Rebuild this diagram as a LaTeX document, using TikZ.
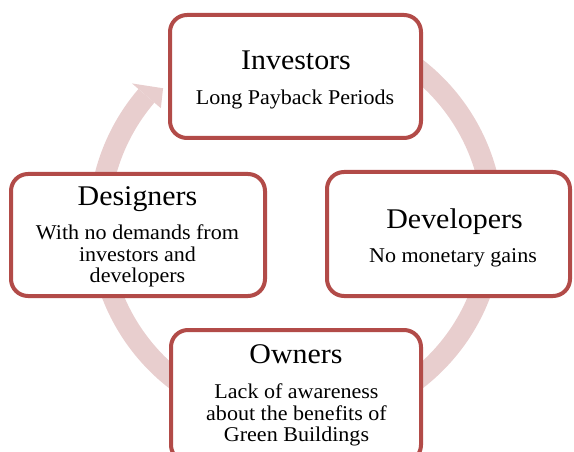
\documentclass[tikz,border=0pt]{standalone}
\usepackage{fontspec}
\setmainfont[FakeStretch=1.05]{Liberation Serif}
\usetikzlibrary{calc}
\definecolor{rimred}{RGB}{178,75,72}
\definecolor{ringpink}{RGB}{232,206,206}
\begin{document}
\begin{tikzpicture}[x=1pt,y=-1pt,
  card/.style={draw=rimred, line width=4pt, fill=white, rounded corners=17pt, inner sep=0pt},
  heading/.style={inner sep=0pt, anchor=base, font=\fontsize{28.5}{30}\selectfont},
  note/.style={inner sep=0pt, anchor=base, align=center, font=\fontsize{21}{21.5}\selectfont},
  ring/.style={draw=ringpink, line width=21pt}]
\useasboundingbox (0,0) rectangle (574,452);
\clip (0,0) rectangle (574,452);

% circular arrow running clockwise behind the four cards
\coordinate (hub) at (296,224);
\draw[ring] ($(hub)+(-80:197)$) arc[start angle=-80, end angle=220.6, radius=197];
\fill[ringpink] ($(hub)+(220.6:216)$) -- ($(hub)+(225.6:190)$) -- ($(hub)+(220.6:178)$) -- cycle;

% cards
\node[card, minimum width=251pt, minimum height=123pt] (inv) at (295.5,76.5) {};
\node[card, minimum width=254pt, minimum height=122pt] (des) at (138,235) {};
\node[card, minimum width=243pt, minimum height=124pt] (dev) at (448.5,234) {};
\node[card, minimum width=250pt, minimum height=132pt] (own) at (296,396) {};

% texts (multi-line notes are placed by the baseline of their last line)
\node[heading] (invT) at (296,69.5) {Investors};
\node[note] (invD) at (295,105) {Long Payback Periods};

\node[heading] (desT) at (137.5,205) {Designers};
\node[note] (desD) at (137.5,282.5) {With no demands from\\investors and\\developers};

\node[heading] (devT) at (454.5,228) {Developers};
\node[note] (devD) at (453,262) {No monetary gains};

\node[heading] (ownT) at (296,363) {Owners};
\node[note] (ownD) at (296.5,441.5) {Lack of awareness\\about the benefits of\\Green Buildings};
\end{tikzpicture}
\end{document}
